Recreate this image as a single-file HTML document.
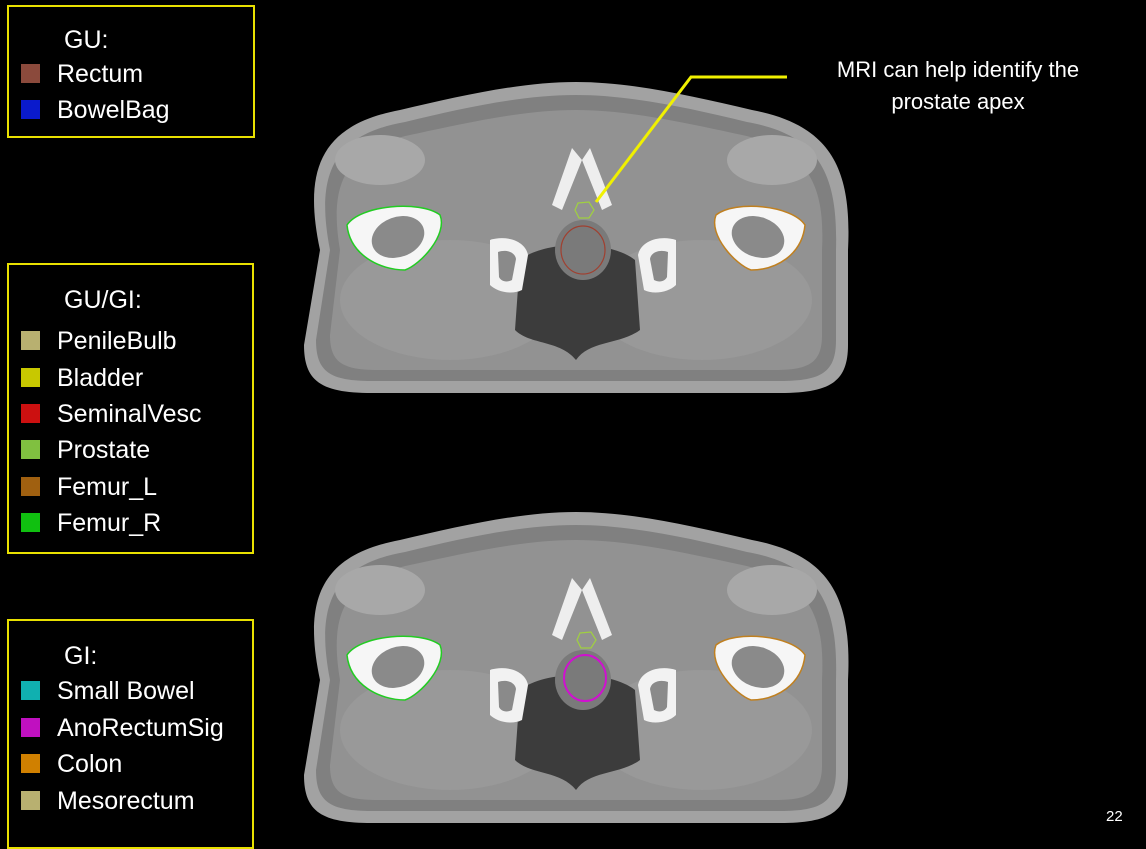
<!DOCTYPE html>
<html><head><style>
body{margin:0;width:1146px;height:832px;background:#000;overflow:hidden;position:relative;font-family:"Liberation Sans",sans-serif;color:#fff}
.box{position:absolute;border:2px solid #e8e000;box-sizing:border-box}
.t{position:absolute;font-size:25px;left:57px;white-space:nowrap;line-height:28px}
.s{position:absolute;left:21px;width:19px;height:19px}
svg{position:absolute;left:0;top:0}
</style></head><body>
<svg width="1146" height="832" viewBox="0 0 1146 832">
<defs>
<g id="ct">
<path d="M320,250 C303,170 320,125 400,110 C460,96 520,82 576,82 C632,82 692,96 752,110 C832,125 852,170 848,250 L848,345 C848,382 830,393 780,393 L372,393 C322,393 304,382 304,345 Z" fill="#a2a2a2"/>
<path d="M330,250 C316,178 330,135 405,122 C462,108 522,95 576,95 C630,95 690,108 747,122 C822,135 838,178 836,250 L836,340 C836,372 822,381 780,381 L372,381 C330,381 316,372 316,340 Z" fill="#808080"/>
<path d="M340,250 C330,190 340,150 410,135 C470,122 525,110 576,110 C627,110 682,122 742,135 C812,150 825,190 822,250 L822,335 C822,362 810,370 775,370 L378,370 C342,370 330,362 330,335 Z" fill="#929292"/>
<ellipse cx="380" cy="160" rx="45" ry="25" fill="#a8a8a8"/>
<ellipse cx="772" cy="160" rx="45" ry="25" fill="#a8a8a8"/>
<ellipse cx="450" cy="300" rx="110" ry="60" fill="#999"/>
<ellipse cx="702" cy="300" rx="110" ry="60" fill="#999"/>
<path d="M520,260 C545,240 610,240 635,260 L640,330 C620,345 590,340 576,360 C560,340 530,345 515,330 Z" fill="#3c3c3c"/>
<ellipse cx="583" cy="250" rx="28" ry="30" fill="#7a7a7a"/>
<path d="M572,148 L582,160 L562,210 L552,205 Z" fill="#eee"/>
<path d="M590,148 L582,160 L602,210 L612,205 Z" fill="#eee"/>
<path d="M490,240 C505,235 525,240 528,255 L522,290 C512,295 497,292 490,285 Z" fill="#f2f2f2"/>
<path d="M498,252 C506,249 515,252 516,259 L512,280 C506,283 501,281 499,277 Z" fill="#8a8a8a"/>
<path d="M676,240 C661,235 641,240 638,255 L644,290 C654,295 669,292 676,285 Z" fill="#f2f2f2"/>
<path d="M668,252 C660,249 651,252 650,259 L654,280 C660,283 665,281 667,277 Z" fill="#8a8a8a"/>
<path d="M347,225 C360,205 420,200 440,215 C448,235 420,265 405,270 C380,270 350,255 347,225 Z" fill="#f6f6f6"/>
<ellipse cx="398" cy="237" rx="27" ry="20" transform="rotate(-20 398 237)" fill="#8a8a8a"/>
<path d="M805,225 C792,205 735,200 716,215 C708,235 736,265 751,270 C776,270 802,255 805,225 Z" fill="#f6f6f6"/>
<ellipse cx="758" cy="237" rx="27" ry="20" transform="rotate(20 758 237)" fill="#8a8a8a"/>
</g>
</defs>
<use href="#ct"/>
<path d="M347,225 C360,205 420,200 440,215 C448,235 420,265 405,270 C380,270 350,255 347,225 Z" fill="none" stroke="#22cc22" stroke-width="1.5"/>
<path d="M805,225 C792,205 735,200 716,215 C708,235 736,265 751,270 C776,270 802,255 805,225 Z" fill="none" stroke="#c08020" stroke-width="1.5"/>
<polygon points="578,203 589,202 594,210 589,218 579,218 575,210" fill="none" stroke="#a0d040" stroke-width="1.2"/>
<ellipse cx="583" cy="250" rx="22" ry="24" fill="none" stroke="#a04030" stroke-width="1.2"/>
<polyline points="787,77 691,77 596,202" fill="none" stroke="#f0f000" stroke-width="3"/>
<g transform="translate(0,430)">
<use href="#ct"/>
<path d="M347,225 C360,205 420,200 440,215 C448,235 420,265 405,270 C380,270 350,255 347,225 Z" fill="none" stroke="#22cc22" stroke-width="1.5"/>
<path d="M805,225 C792,205 735,200 716,215 C708,235 736,265 751,270 C776,270 802,255 805,225 Z" fill="none" stroke="#c08020" stroke-width="1.5"/>
<polygon points="580,203 591,202 596,210 591,218 581,218 577,210" fill="none" stroke="#a0d040" stroke-width="1.2"/>
<ellipse cx="585" cy="248" rx="21" ry="23" fill="none" stroke="#d010d0" stroke-width="2"/>
</g>
</svg>
<div style="position:absolute;left:758px;top:54px;width:400px;text-align:center;font-size:22px;line-height:32px">MRI can help identify the<br>prostate apex</div>
<div style="position:absolute;left:1106px;top:808px;font-size:15px">22</div>

<div class="box" style="left:7px;top:5px;width:248px;height:133px"></div>
<div class="t" style="top:26px;left:64px">GU:</div>
<div class="s" style="top:64px;background:#8b4a3c"></div><div class="t" style="top:60px">Rectum</div>
<div class="s" style="top:100px;background:#0a1acc"></div><div class="t" style="top:96px">BowelBag</div>

<div class="box" style="left:7px;top:263px;width:247px;height:291px"></div>
<div class="t" style="top:286px;left:64px">GU/GI:</div>
<div class="s" style="top:331px;background:#b8b070"></div><div class="t" style="top:327px">PenileBulb</div>
<div class="s" style="top:368px;background:#c8c800"></div><div class="t" style="top:364px">Bladder</div>
<div class="s" style="top:404px;background:#cc1010"></div><div class="t" style="top:400px">SeminalVesc</div>
<div class="s" style="top:440px;background:#80c040"></div><div class="t" style="top:436px">Prostate</div>
<div class="s" style="top:477px;background:#a06010"></div><div class="t" style="top:473px">Femur_L</div>
<div class="s" style="top:513px;background:#10c010"></div><div class="t" style="top:509px">Femur_R</div>

<div class="box" style="left:7px;top:619px;width:247px;height:230px"></div>
<div class="t" style="top:642px;left:64px">GI:</div>
<div class="s" style="top:681px;background:#10b0b0"></div><div class="t" style="top:677px">Small Bowel</div>
<div class="s" style="top:718px;background:#c010c0"></div><div class="t" style="top:714px">AnoRectumSig</div>
<div class="s" style="top:754px;background:#d08000"></div><div class="t" style="top:750px">Colon</div>
<div class="s" style="top:791px;background:#b8b070"></div><div class="t" style="top:787px">Mesorectum</div>
</body></html>
